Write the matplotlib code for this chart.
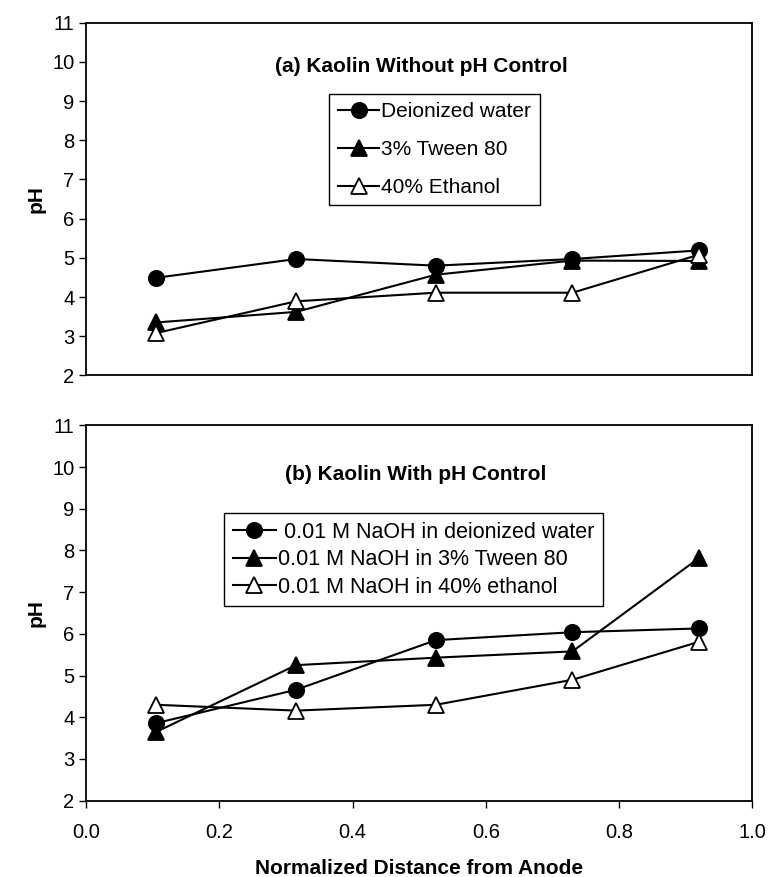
import numpy as np
import matplotlib
matplotlib.use("Agg")
import matplotlib.pyplot as plt

plt.rcParams['font.family'] = ['Liberation Sans', 'DejaVu Sans']

# normalized distance from anode
dist = [0.105, 0.315, 0.525, 0.73, 0.92]

# (a) without pH control
ph_a_water   = [4.49, 4.97, 4.80, 4.97, 5.19]
ph_a_tween   = [3.35, 3.62, 4.57, 4.93, 4.92]
ph_a_ethanol = [3.08, 3.89, 4.11, 4.11, 5.08]
labels_a = ['Deionized water', '3% Tween 80', '40% Ethanol']

# (b) with pH control
ph_b_water   = [3.86, 4.66, 5.85, 6.04, 6.13]
ph_b_tween   = [3.65, 5.25, 5.43, 5.58, 7.82]
ph_b_ethanol = [4.30, 4.16, 4.30, 4.90, 5.81]
labels_b = [' 0.01 M NaOH in deionized water', '0.01 M NaOH in 3% Tween 80',
            '0.01 M NaOH in 40% ethanol']

styles = [dict(marker='o', mfc='black'),
          dict(marker='^', mfc='black'),
          dict(marker='^', mfc='white')]

fig = plt.figure(figsize=(7.7, 8.77), dpi=100)
ax1 = fig.add_axes([0.112, 0.572, 0.865, 0.402])
ax2 = fig.add_axes([0.112, 0.087, 0.865, 0.428])


def draw(ax, series, labels, title, tx, ty, lx, ly, spacing, lfs):
    for vals, lab, st in zip(series, labels, styles):
        ax.plot(dist, vals, color='black', lw=1.5, ms=11, mec='black',
                mew=1.3, label=lab, **st)
    ax.set_xlim(0, 1.0)
    ax.set_ylim(2, 11)
    ax.set_yticks(range(2, 12))
    ax.set_ylabel('pH', fontsize=15, fontweight='bold', labelpad=5)
    ax.tick_params(axis='both', direction='out', length=5, width=1,
                   labelsize=14.5, colors='black')
    for sp in ax.spines.values():
        sp.set_linewidth(1.3)
        sp.set_color('black')
    ax.text(tx, ty, title, transform=ax.transAxes, ha='center', va='center',
            fontsize=15, fontweight='bold')
    leg = ax.legend(loc='upper left', bbox_to_anchor=(lx, ly), borderaxespad=0,
                    fontsize=lfs, handlelength=2.0, handletextpad=0.1,
                    labelspacing=spacing, fancybox=False, framealpha=1,
                    edgecolor='black', borderpad=0.4)
    leg.get_frame().set_linewidth(1.0)


draw(ax1, [ph_a_water, ph_a_tween, ph_a_ethanol], labels_a,
     '(a) Kaolin Without pH Control', 0.503, 0.876, 0.365, 0.798, 0.9, 15)
ax1.set_xticks([])

draw(ax2, [ph_b_water, ph_b_tween, ph_b_ethanol], labels_b,
     '(b) Kaolin With pH Control', 0.495, 0.870, 0.207, 0.766, 0.3, 15.5)
ax2.set_xticks(np.arange(0, 1.01, 0.2))
ax2.set_xticklabels(['%.1f' % v for v in np.arange(0, 1.01, 0.2)])
ax2.tick_params(axis='x', pad=11)
ax2.set_xlabel('Normalized Distance from Anode', fontsize=15,
               fontweight='bold', labelpad=12)

fig.savefig('out.png', dpi=100)
